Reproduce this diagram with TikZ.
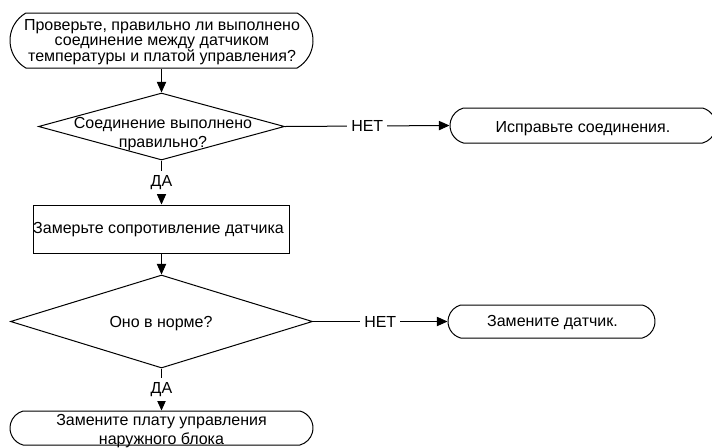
\documentclass[tikz,border=0pt]{standalone}
\usepackage{fontspec}
\setmainfont{Liberation Sans}
\usetikzlibrary{shapes.geometric,shapes.misc,arrows.meta}

\begin{document}
\begin{tikzpicture}[
  x=0.75pt, y=-0.75pt,
  shapeline/.style={draw=black, line width=0.75pt, inner sep=0pt, fill=white},
  term/.style={shapeline, rounded rectangle, rounded rectangle arc length=150},
  proc/.style={shapeline, rectangle},
  decision/.style={shapeline, diamond},
  txt/.style={inner sep=0pt, align=center, text=black,
    font=\fontsize{12}{11.25}\selectfont},
  flow/.style={draw=black, line width=0.75pt, -{Triangle[length=8pt,width=7pt]}},
  lbl/.style={fill=white, inner sep=3pt, text=black, font=\fontsize{12}{13}\selectfont},
]
\useasboundingbox (0,0) rectangle (712,447);

% shapes
\node[term, rounded rectangle arc length=120, minimum width=227.25pt, minimum height=41.25pt] (start) at (161.5,40.5) {};
\node[decision, minimum width=184.5pt, minimum height=50.25pt] (q1) at (161.5,126.5) {};
\node[term, minimum width=199.5pt, minimum height=26.25pt] (fix) at (583,125.5) {};
\node[proc, minimum width=192pt, minimum height=36pt] (measure) at (161.5,229) {};
\node[decision, minimum width=226.5pt, minimum height=69.75pt] (q2) at (161.5,321.5) {};
\node[term, minimum width=155.25pt, minimum height=24.75pt] (sensor) at (551.5,321.5) {};
\node[term, minimum width=227.25pt, minimum height=25.5pt] (board) at (161.5,428) {};

% texts
\node[txt] (startT) at (162,42) {Проверьте, правильно ли выполнено\\соединение между датчиком\\температуры и платой управления?};
\node[txt, font=\fontsize{12}{14.25}\selectfont] (q1T) at (163,134) {Соединение выполнено\\правильно?};
\node[txt] (fixT) at (583,128.5) {Исправьте соединения.};
\node[txt] (measureT) at (158.5,230) {Замерьте сопротивление датчика};
\node[txt] (q2T) at (161,323.7) {Оно в норме?};
\node[txt] (sensorT) at (552.5,322.8) {Замените датчик.};
\node[txt, font=\fontsize{12}{14}\selectfont] (boardT) at (161.5,430.8) {Замените плату управления\\наружного блока};

% connectors
\draw[flow] (start.south) -- (q1.north);
\draw[flow] (q1.east) -- node[lbl] {НЕТ} (fix.west);
\draw[flow] (q1.south) -- node[lbl] {ДА} (measure.north);
\draw[flow] (measure.south) -- (q2.north);
\draw[flow] (q2.east) -- node[lbl] {НЕТ} (sensor.west);
\draw[flow] (q2.south) -- node[lbl] {ДА} (board.north);
\end{tikzpicture}
\end{document}
